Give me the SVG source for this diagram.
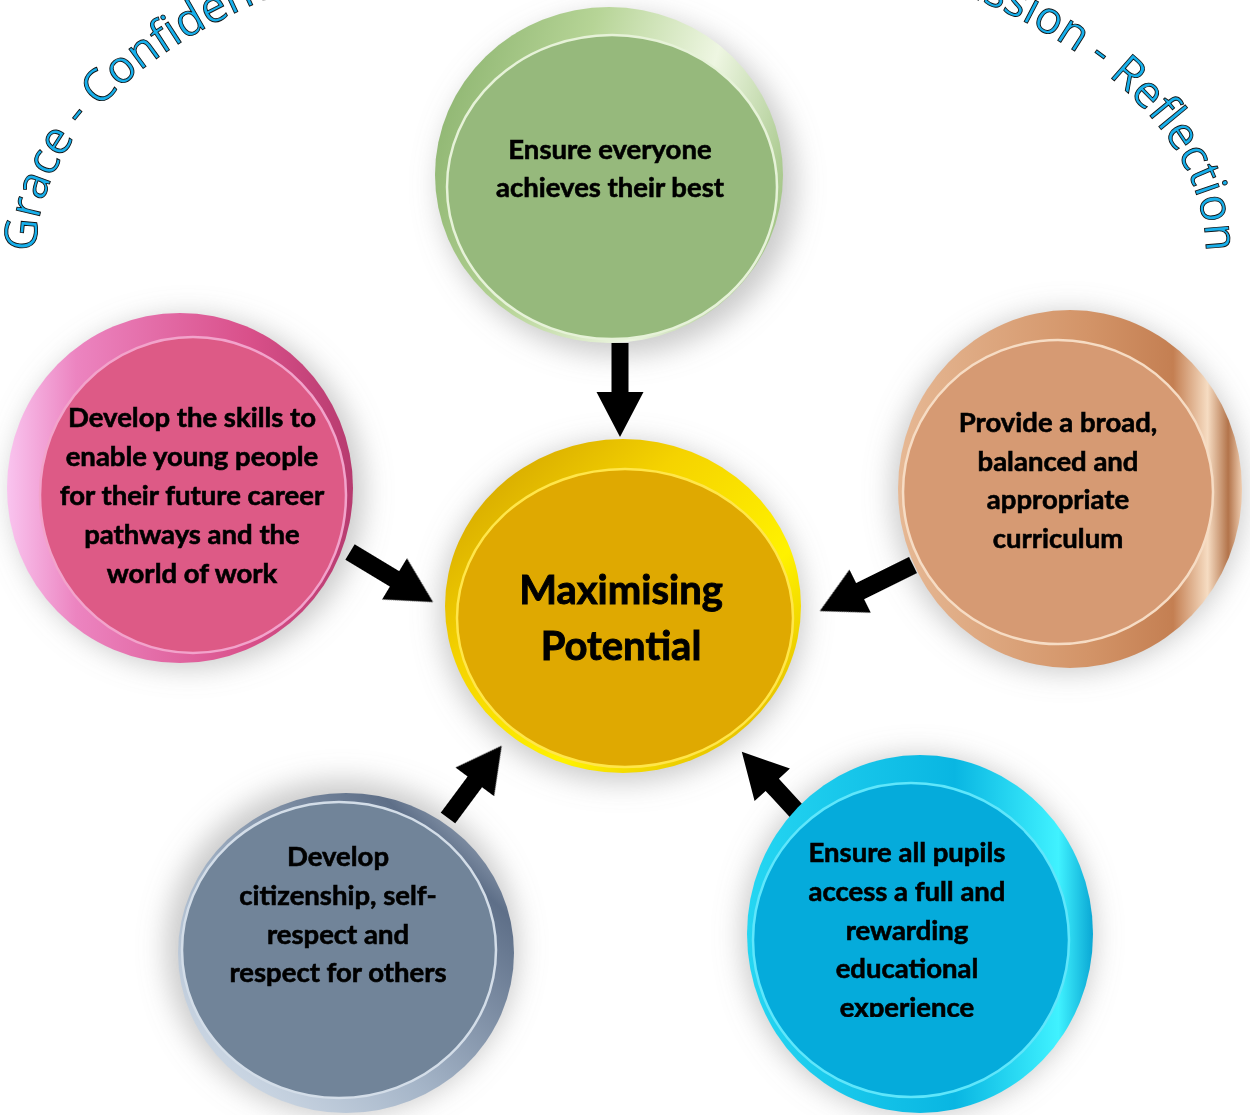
<svg xmlns="http://www.w3.org/2000/svg" xmlns:xlink="http://www.w3.org/1999/xlink" width="1250" height="1115" viewBox="0 0 1250 1115">
<defs>
<style>
.lbl{font-family:Lato,"Liberation Sans",sans-serif;font-weight:700;font-size:27.5px;fill:#000;stroke:#000;stroke-width:0.6px;text-anchor:middle}
.big{font-size:40px;stroke-width:0.9px}
.arc{font-family:"Open Sans","DejaVu Sans",sans-serif;font-size:45px;fill:#17b0ec;stroke:#111;stroke-width:0.9px}
.arrow{fill:#000}
.shadow{fill:#8a8a8a;opacity:.45}
</style>
<filter id="blur" x="-30%" y="-30%" width="160%" height="160%"><feGaussianBlur stdDeviation="14"/></filter>
<linearGradient id="gRim" x1="0" y1="0.3" x2="1" y2="0.6"><stop offset="0" stop-color="#8fb672"/><stop offset=".35" stop-color="#b6d496"/><stop offset=".7" stop-color="#eef6e2"/><stop offset="1" stop-color="#a3c586"/></linearGradient>
<linearGradient id="yRim" x1="0" y1="0" x2="1" y2="1"><stop offset="0" stop-color="#c99800"/><stop offset=".35" stop-color="#f5d300"/><stop offset=".65" stop-color="#fff200"/><stop offset="1" stop-color="#d8a600"/></linearGradient>
<linearGradient id="pRim" x1="0" y1="0" x2="1" y2="0"><stop offset="0" stop-color="#f9c4ef"/><stop offset=".2" stop-color="#ec84c0"/><stop offset=".7" stop-color="#d9508a"/><stop offset="1" stop-color="#b73b6f"/></linearGradient>
<linearGradient id="oRim" x1="0" y1="0" x2="1" y2="0"><stop offset="0" stop-color="#e6b894"/><stop offset=".55" stop-color="#d39468"/><stop offset=".8" stop-color="#c47f52"/><stop offset=".9" stop-color="#f6dcc2"/><stop offset=".96" stop-color="#b3744b"/><stop offset="1" stop-color="#efcdb0"/></linearGradient>
<linearGradient id="sRim" x1="0" y1="1" x2="1" y2="0"><stop offset="0" stop-color="#dfe8f2"/><stop offset=".4" stop-color="#a5b5c8"/><stop offset=".8" stop-color="#5e6f88"/><stop offset="1" stop-color="#c8d3e0"/></linearGradient>
<linearGradient id="cRim" x1="0" y1="0" x2="1" y2="0"><stop offset="0" stop-color="#25d6f2"/><stop offset=".6" stop-color="#09b6e2"/><stop offset=".9" stop-color="#40f2ff"/><stop offset="1" stop-color="#0aa7d4"/></linearGradient>
<clipPath id="cyanClip"><rect x="740" y="760" width="360" height="257"/></clipPath>
<path id="arcPath" d="M 36 252 A 585 318 0 0 1 1206 252" fill="none"/>
</defs>
<rect width="1250" height="1115" fill="#fff"/>

<g id="shadows" filter="url(#blur)">
<ellipse class="shadow" cx="618" cy="185" rx="178" ry="170"/>
<ellipse class="shadow" cx="622" cy="612" rx="182" ry="170"/>
<ellipse class="shadow" cx="188" cy="492" rx="176" ry="176"/>
<ellipse class="shadow" cx="1068" cy="492" rx="176" ry="180"/>
<ellipse class="shadow" cx="342" cy="948" rx="176" ry="168"/>
<ellipse class="shadow" cx="918" cy="935" rx="176" ry="180"/>
</g>

<g id="arc-text">
<text class="arc"><textPath href="#arcPath" startOffset="0">Grace - Confidence</textPath></text>
<text class="arc" text-anchor="end"><textPath href="#arcPath" startOffset="100%">Compassion - Reflection</textPath></text>
</g>

<g id="connectors">
<polygon class="arrow" transform="translate(620,343) rotate(90)" points="0,-8.5 49,-8.5 49,-23.5 94,0 49,23.5 49,8.5 0,8.5"/>
<polygon class="arrow" transform="translate(350,552) rotate(31.1)" points="0,-9 52,-9 52,-24 97,0 52,24 52,9 0,9"/>
<polygon class="arrow" transform="translate(913,565) rotate(153.7)" points="0,-9 59,-9 59,-24 104,0 59,24 59,9 0,9"/>
<polygon class="arrow" transform="translate(448,818) rotate(-53.4)" points="0,-9 45,-9 45,-24 90,0 45,24 45,9 0,9"/>
<polygon class="arrow" transform="translate(800,815) rotate(-132.6)" points="0,-9 41,-9 41,-24 86,0 41,24 41,9 0,9"/>
</g>

<g id="node-green">
<ellipse cx="609" cy="175" rx="174" ry="168" fill="url(#gRim)"/>
<ellipse cx="612" cy="187" rx="165" ry="152" fill="#96b97c" stroke="#e6f2d8" stroke-width="2.5"/>
<text class="lbl"><tspan x="610" y="159">Ensure everyone</tspan><tspan x="610" y="197">achieves their best</tspan></text>
</g>

<g id="node-center">
<ellipse cx="623" cy="606" rx="178" ry="167" fill="url(#yRim)"/>
<ellipse cx="625" cy="618" rx="168" ry="149" fill="#dfa901" stroke="#ffe64a" stroke-width="2.5"/>
<text class="lbl big"><tspan x="621" y="604">Maximising</tspan><tspan x="621" y="660">Potential</tspan></text>
</g>

<g id="node-pink">
<ellipse cx="180" cy="488" rx="173" ry="175" fill="url(#pRim)"/>
<ellipse cx="193" cy="495" rx="153" ry="158" fill="#dd5a86" stroke="#f2a3cb" stroke-width="2.5"/>
<text class="lbl"><tspan x="192" y="427">Develop the skills to</tspan><tspan x="192" y="466">enable young people</tspan><tspan x="192" y="505">for their future career</tspan><tspan x="192" y="544">pathways and the</tspan><tspan x="192" y="583">world of work</tspan></text>
</g>

<g id="node-orange">
<ellipse cx="1070" cy="489" rx="172" ry="179" fill="url(#oRim)"/>
<ellipse cx="1058" cy="492" rx="155" ry="152" fill="#d69a73" stroke="#f6dcc4" stroke-width="2.5"/>
<text class="lbl"><tspan x="1058" y="432">Provide a broad,</tspan><tspan x="1058" y="471">balanced and</tspan><tspan x="1058" y="509">appropriate</tspan><tspan x="1058" y="548">curriculum</tspan></text>
</g>

<g id="node-slate">
<ellipse cx="346" cy="953" rx="168" ry="160" fill="url(#sRim)"/>
<ellipse cx="339" cy="950" rx="157" ry="148" fill="#718499" stroke="#d3dde8" stroke-width="2.5"/>
<text class="lbl"><tspan x="338" y="866">Develop</tspan><tspan x="338" y="905">citizenship, self-</tspan><tspan x="338" y="944">respect and</tspan><tspan x="338" y="982">respect for others</tspan></text>
</g>

<g id="node-cyan">
<ellipse cx="920" cy="934" rx="173" ry="179" fill="url(#cRim)"/>
<ellipse cx="911" cy="940" rx="158" ry="157" fill="#05abdb" stroke="#5fe6fb" stroke-width="2.5"/>
<text class="lbl" clip-path="url(#cyanClip)"><tspan x="907" y="862">Ensure all pupils</tspan><tspan x="907" y="901">access a full and</tspan><tspan x="907" y="940">rewarding</tspan><tspan x="907" y="978">educational</tspan><tspan x="907" y="1017">experience</tspan></text>
</g>
</svg>
